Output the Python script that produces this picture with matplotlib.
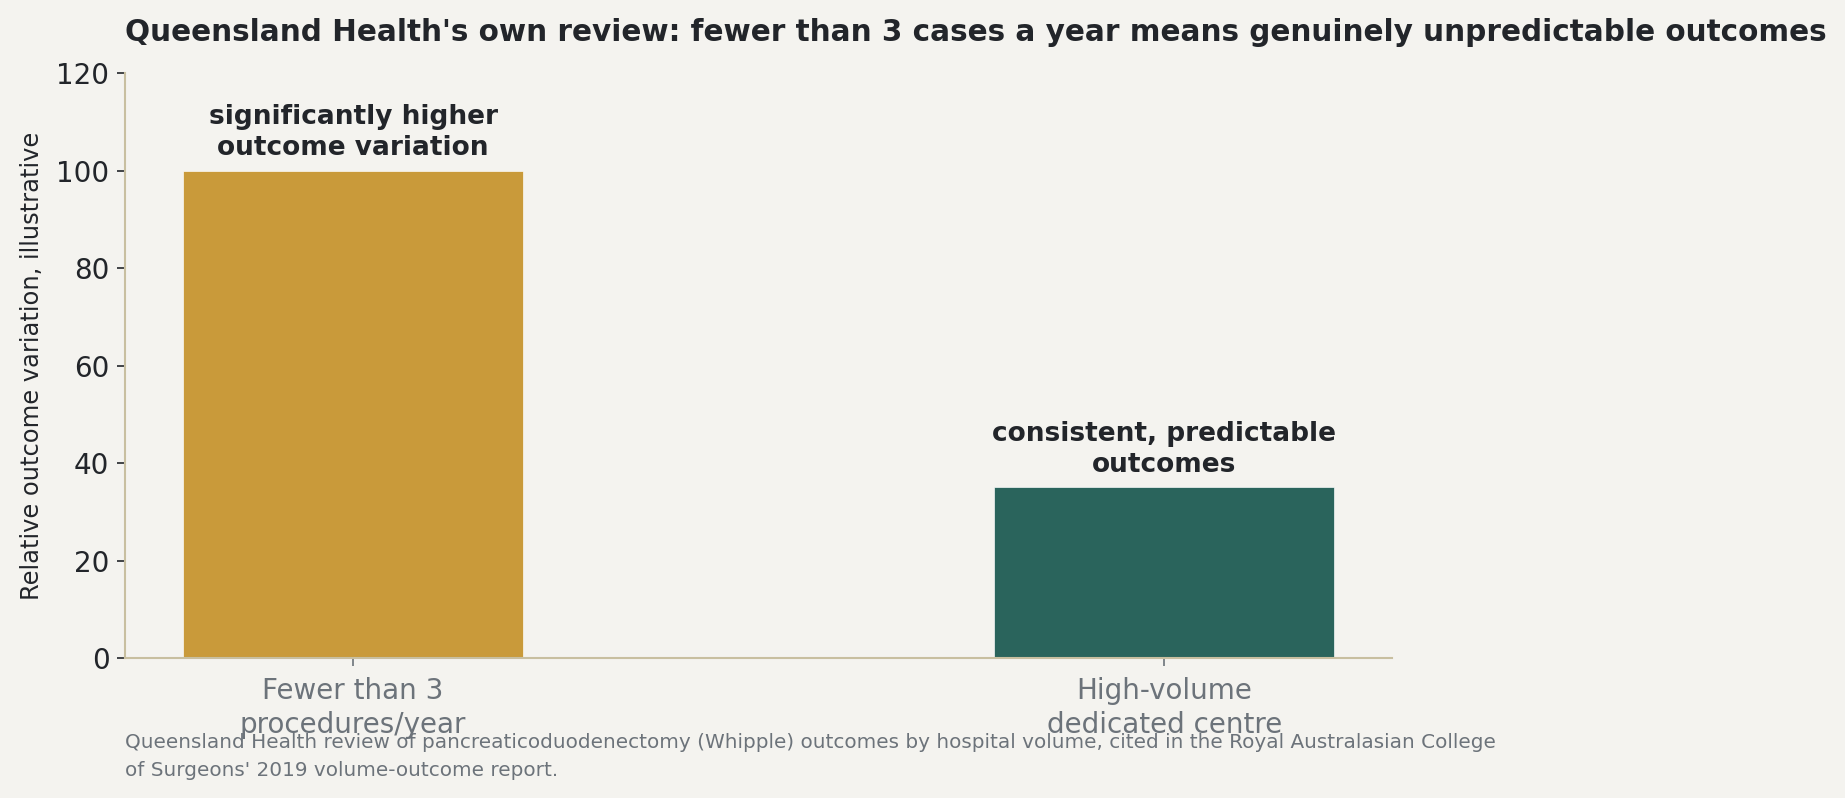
import matplotlib
matplotlib.use("Agg")
import matplotlib.pyplot as plt

categories = ["Fewer than 3\nprocedures/year", "High-volume\ndedicated centre"]
values = [100, 35]
notes = ["significantly higher\noutcome variation", "consistent, predictable\noutcomes"]
colors = ["#c99a3a", "#2a645c"]

bg = "#f4f3ef"
dark = "#22252a"
grey = "#6c737a"
spine = "#c8bfa0"

plt.rcParams["font.family"] = "DejaVu Sans"

fig = plt.figure(figsize=(12.3, 5.32), dpi=150, facecolor=bg)
ax = fig.add_axes([0.0678, 0.1754, 0.6867, 0.7331])
ax.set_facecolor(bg)

x = range(len(categories))
ax.bar(x, values, width=0.42, color=colors, edgecolor="white", linewidth=0.3)
for i, (v, n) in enumerate(zip(values, notes)):
    ax.text(i, v + 2, n, ha="center", va="bottom", fontsize=12.7,
            fontweight="bold", color=dark, linespacing=1.25)

ax.set_ylim(0, 120)
ax.set_yticks([0, 20, 40, 60, 80, 100, 120])
ax.set_xticks(list(x))
ax.set_xticklabels(categories, fontsize=13.3, color=grey, linespacing=1.3)
ax.tick_params(axis="y", labelsize=13.3, colors=dark, length=4)
ax.tick_params(axis="x", colors=grey, length=4, pad=5)
ax.set_ylabel("Relative outcome variation, illustrative", fontsize=11.6, color=dark, labelpad=6)

for s in ["top", "right"]:
    ax.spines[s].set_visible(False)
for s in ["left", "bottom"]:
    ax.spines[s].set_color(spine)
    ax.spines[s].set_linewidth(1)

fig.text(0.0678, 0.959, "Queensland Health's own review: fewer than 3 cases a year means genuinely unpredictable outcomes",
         fontsize=14.2, fontweight="bold", color=dark, ha="left", va="center")
fig.text(0.0678, 0.052,
         "Queensland Health review of pancreaticoduodenectomy (Whipple) outcomes by hospital volume, cited in the Royal Australasian College\nof Surgeons' 2019 volume-outcome report.",
         fontsize=9.6, color=grey, ha="left", va="center", linespacing=1.55)

fig.savefig("out.png", dpi=150, facecolor=bg)
